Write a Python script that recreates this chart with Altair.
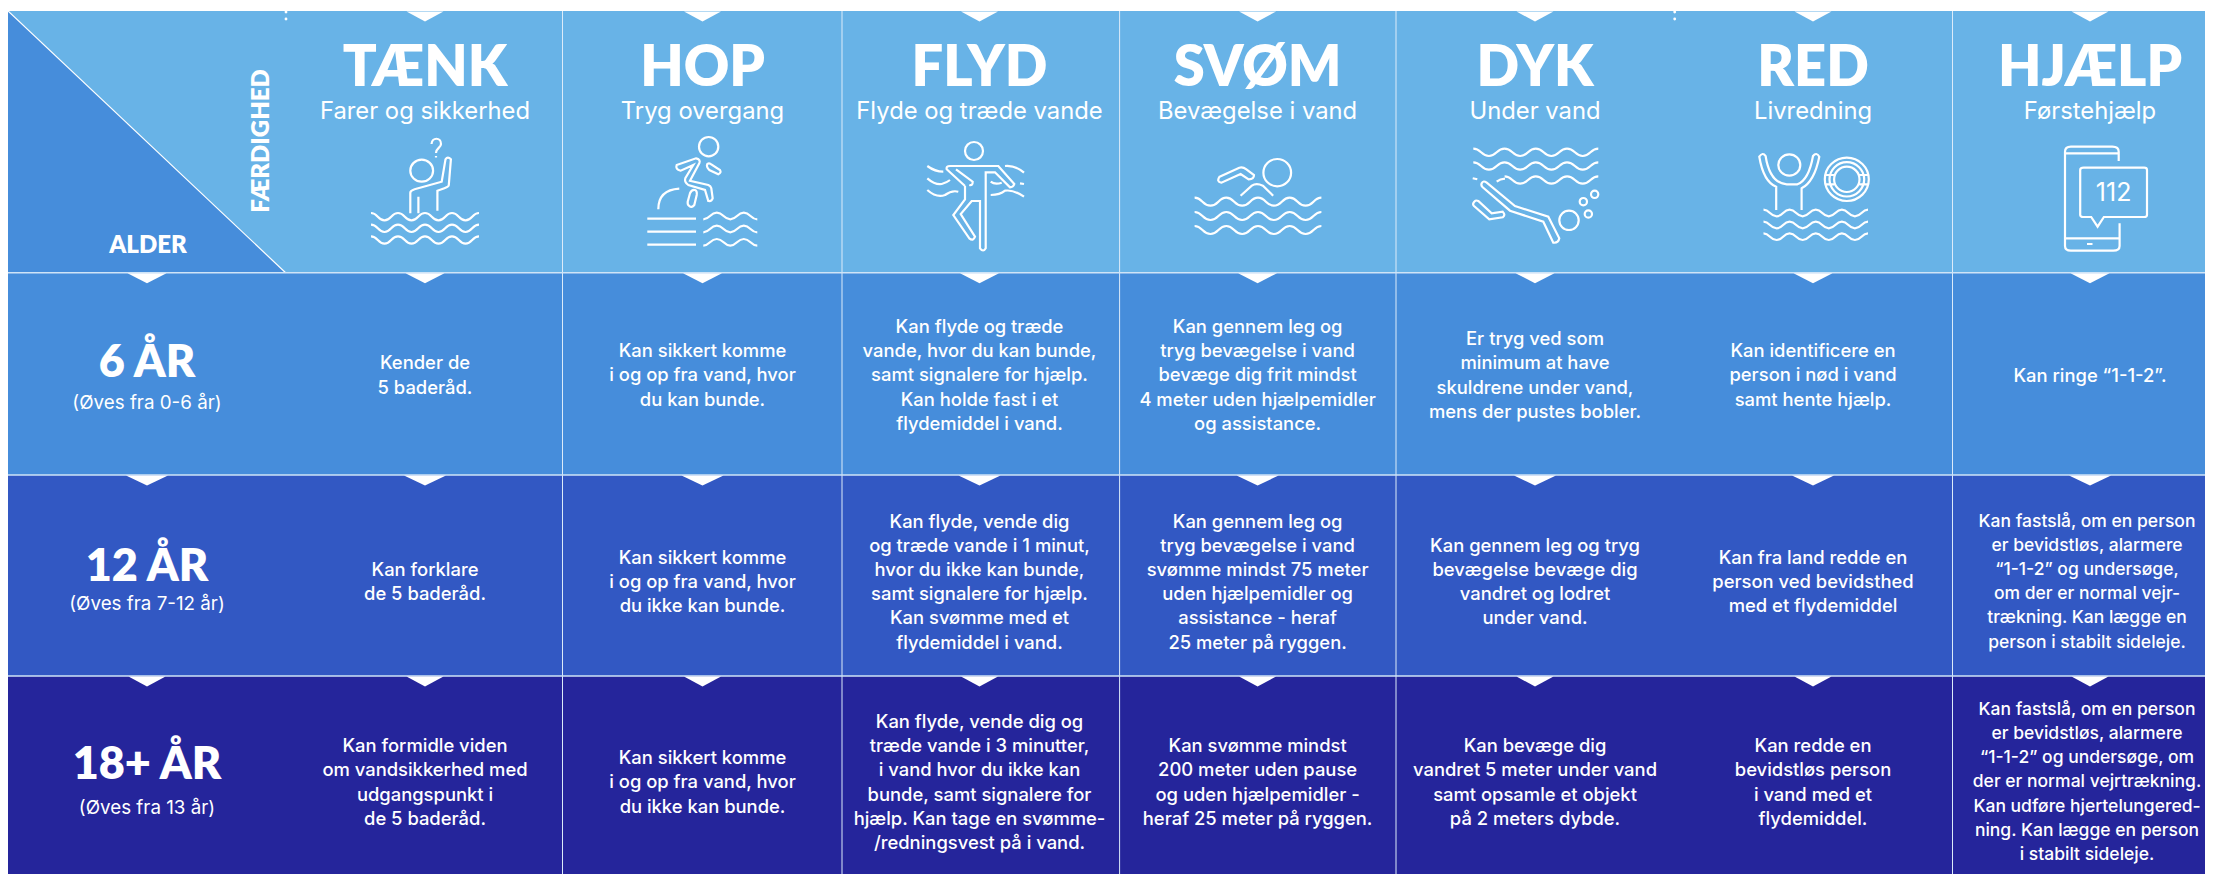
import re
import altair as alt
import pandas as pd

# ---------- content ----------
SKILLS = ["TÆNK", "HOP", "FLYD", "SVØM", "DYK", "RED", "HJÆLP"]
SUBTITLES = ["Farer og sikkerhed", "Tryg overgang", "Flyde og træde vande", "Bevægelse i vand",
             "Under vand", "Livredning", "Førstehjælp"]
AGES = ["6 ÅR", "12 ÅR", "18+ ÅR"]
AGE_NOTES = ["(Øves fra 0-6 år)", "(Øves fra 7-12 år)", "(Øves fra 13 år)"]
ROW_6 = [
    "Kender de\n5 baderåd.",
    "Kan sikkert komme\ni og op fra vand, hvor\ndu kan bunde.",
    "Kan flyde og træde\nvande, hvor du kan bunde,\nsamt signalere for hjælp.\nKan holde fast i et\nflydemiddel i vand.",
    "Kan gennem leg og\ntryg bevægelse i vand\nbevæge dig frit mindst\n4 meter uden hjælpemidler\nog assistance.",
    "Er tryg ved som\nminimum at have\nskuldrene under vand,\nmens der pustes bobler.",
    "Kan identificere en\nperson i nød i vand\nsamt hente hjælp.",
    "Kan ringe “1-1-2”.",
]
ROW_12 = [
    "Kan forklare\nde 5 baderåd.",
    "Kan sikkert komme\ni og op fra vand, hvor\ndu ikke kan bunde.",
    "Kan flyde, vende dig\nog træde vande i 1 minut,\nhvor du ikke kan bunde,\nsamt signalere for hjælp.\nKan svømme med et\nflydemiddel i vand.",
    "Kan gennem leg og\ntryg bevægelse i vand\nsvømme mindst 75 meter\nuden hjælpemidler og\nassistance - heraf\n25 meter på ryggen.",
    "Kan gennem leg og tryg\nbevægelse bevæge dig\nvandret og lodret\nunder vand.",
    "Kan fra land redde en\nperson ved bevidsthed\nmed et flydemiddel",
    "Kan fastslå, om en person\ner bevidstløs, alarmere\n“1-1-2” og undersøge,\nom der er normal vejr-\ntrækning. Kan lægge en\nperson i stabilt sideleje.",
]
ROW_18 = [
    "Kan formidle viden\nom vandsikkerhed med\nudgangspunkt i\nde 5 baderåd.",
    "Kan sikkert komme\ni og op fra vand, hvor\ndu ikke kan bunde.",
    "Kan flyde, vende dig og\ntræde vande i 3 minutter,\ni vand hvor du ikke kan\nbunde, samt signalere for\nhjælp. Kan tage en svømme-\n/redningsvest på i vand.",
    "Kan svømme mindst\n200 meter uden pause\nog uden hjælpemidler -\nheraf 25 meter på ryggen.",
    "Kan bevæge dig\nvandret 5 meter under vand\nsamt opsamle et objekt\npå 2 meters dybde.",
    "Kan redde en\nbevidstløs person\ni vand med et\nflydemiddel.",
    "Kan fastslå, om en person\ner bevidstløs, alarmere\n“1-1-2” og undersøge, om\nder er normal vejrtrækning.\nKan udføre hjertelungered-\nning. Kan lægge en person\ni stabilt sideleje.",
]

# ---------- layout of the page (pixels) ----------
W, H = 2205, 874
FONT = "Inter"
COL_CENTERS = [425, 702.5, 979.5, 1257.6, 1535, 1813, 2090]
AGE_X = 147
COL_LINES = [562.5, 842, 1119.6, 1396, 1952.5]
TOP, ROW_EDGES = 11, [272.7, 475, 676, H]
ROW_MID = [375.5, 582, 782.5]
LINE_H = 24.2
BODY_SIZE, TIGHT_SIZE = 18.4, 17.5
AGE_Y, NOTE_Y = [363, 567, 765], [403, 604, 808]
ROW_FILLS = ["#68B3E7", "#468DDB", "#3258C3", "#25259B"]
ICON_Y = 170

X = alt.Scale(domain=[8, W], range=[0, W - 8], nice=False, zero=False)
Y = alt.Scale(domain=[8, H], range=[0, H - 8], nice=False, zero=False)
px = lambda f: alt.X(f, type="quantitative", scale=X, axis=None)
py = lambda f: alt.Y(f, type="quantitative", scale=Y, axis=None)
WHITE = "#FFFFFF"


# ---------- icon outlines ----------
def T(path, ox, oy, sx, sy, cx):
    idx = [0]
    def sub(m):
        v = float(m.group(0))
        i = idx[0]
        idx[0] += 1
        if i % 2 == 0:
            return f"{ox + v / sx - cx:.1f}"
        return f"{oy + v / sy - ICON_Y:.1f}"
    return re.sub(r"-?\d+\.?\d*", sub, path)


def ell(cx, cy, rx, ry=None):
    ry = rx if ry is None else ry
    k = 0.5523
    return (f"M{cx + rx} {cy} C{cx + rx} {cy + k * ry} {cx + k * rx} {cy + ry} {cx} {cy + ry} "
            f"C{cx - k * rx} {cy + ry} {cx - rx} {cy + k * ry} {cx - rx} {cy} "
            f"C{cx - rx} {cy - k * ry} {cx - k * rx} {cy - ry} {cx} {cy - ry} "
            f"C{cx + k * rx} {cy - ry} {cx + rx} {cy - k * ry} {cx + rx} {cy} Z ")


def wave(x0, x1, y, n, amp, start=-1):
    h = (x1 - x0) / (2 * n)
    s = start
    out = f"M{x0:.1f} {y + s * amp:.1f} "
    x = x0
    for _ in range(2 * n):
        out += (f"C{x + h / 2:.1f} {y + s * amp:.1f} {x + h / 2:.1f} {y - s * amp:.1f} "
                f"{x + h:.1f} {y - s * amp:.1f} ")
        x += h
        s = -s
    return out


Z1 = (0, 0, 1.845, 3)
Z2 = (850, 0, 2.24, 3)
Z3 = (1550, 0, 2.365, 3)

taenk = (T(ell(778, 512, 21, 33) +
           "M757 640 L757 578 Q757 572 765 568 L815 545 L822 478 Q826 468 832 478 L828 555 Q828 560 820 565 "
           "L807 572 L807 632 M772 590 L772 640 ", *Z1, 425)
         + "M6.5 -26 C7 -33 16 -33 16 -26 C16 -22 11 -22 11 -17 M11 -14 L11 -12.5 "
         + wave(-54, 54, 46.7, 4, 3.7) + wave(-54, 54, 58.3, 4, 3.7) + wave(-54, 54, 70, 4, 3.7))

hop = (T(ell(206, 50, 29) +
         "M110 105 L168 85 Q183 88 178 100 L150 152 L205 165 Q212 168 214 175 L218 205 Q215 215 205 213 "
         "L195 180 L145 165 Q132 155 136 145 L160 105 L122 122 Q105 118 110 105 Z "
         "M202 102 Q208 97 215 104 L240 120 Q245 128 235 133 L208 120 Q198 110 202 102 Z "
         "M150 190 Q155 178 165 180 Q172 182 170 195 L163 225 Q155 235 148 228 Q142 225 143 215 Z "
         "M55 238 Q55 180 118 176 M22 266 L168 266 M22 305 L168 305 M22 344 L168 344 ",
         640, 130, 3, 3, 702.5)
       + wave(0.8, 54.8, 46, 2, 3.3, 1) + wave(0.8, 54.8, 59, 2, 3.3, 1) + wave(0.8, 54.8, 72.3, 2, 3.3, 1))

flyd = T(ell(162, 63, 27) +
         "M135 168 L80 118 Q78 108 90 108 L235 108 L283 162 Q280 172 270 172 L225 127 L197 127 L197 355 "
         "Q190 368 180 355 L180 213 L155 213 L122 252 L165 320 Q160 335 148 325 L100 255 L135 208 L135 168 "
         "M108 118 L158 155 Q158 168 148 165 "
         "M22 108 Q45 125 70 125 M22 145 Q45 165 65 162 Q80 158 90 150 M22 180 Q50 205 75 195 Q95 180 115 185 "
         "M255 108 Q285 105 312 128 M212 155 Q225 165 245 158 M300 160 L312 162 "
         "M212 195 Q240 195 255 182 Q280 178 312 200 ", 920, 130, 3, 3, 979.5)

svom = (T(ell(957, 518, 31, 41) +
          "M828 530 L872 503 Q880 500 888 508 L905 525 Q905 538 893 538 L875 522 L832 548 Q820 545 828 530 Z "
          "M875 587 L900 557 Q910 548 925 557 L948 587 ", *Z2, 1257.6)
        + wave(-63, 63.8, 31.7, 4, 4) + wave(-63, 63.8, 46, 4, 4) + wave(-63, 63.8, 60, 4, 4))

dyk = (T("M65 130 Q70 120 80 128 L165 198 L265 230 L298 295 Q295 310 280 308 L250 245 L150 212 L68 142 Q62 136 65 130 Z "
         "M40 190 Q45 178 55 183 L95 220 L128 215 Q138 225 128 232 L88 238 L42 198 Q38 194 40 190 Z "
         + ell(327, 241, 29) + ell(370, 185, 11) + ell(404, 163, 11) + ell(385, 222, 11)
         + "M38 115 L52 118 M110 125 Q120 117 135 116 ", 1460, 140, 3, 3, 1535)
       + wave(-61.7, 63.3, -17.7, 4, 3.7) + wave(-61.7, 63.3, -4, 4, 3.7) + wave(-30.4, 63.3, 10, 3, 3.7))

red = (T(ell(566, 495, 26, 32) +
         "M535 630 L535 560 Q505 545 495 470 Q503 455 510 468 Q520 550 560 553 L585 553 Q612 540 622 468 "
         "Q630 455 637 470 Q625 545 595 565 L595 630 "
         + ell(702, 538, 52, 65) + ell(702, 538, 30, 38) + ell(702, 538, 41, 51.5)
         + "M652 525 L672 525 M652 553 L672 553 M732 525 L752 525 M732 553 L752 553 ", *Z3, 1813)
       + wave(-49.5, 55, 43, 4, 3.3) + wave(-49.5, 55, 55, 4, 3.3) + wave(-49.5, 55, 66.7, 4, 3.3))

hjaelp = T("M1345 483 L1345 455 Q1345 440 1330 440 L1232 440 Q1218 440 1218 455 L1218 738 Q1218 752 1232 752 "
           "L1332 752 Q1347 752 1347 738 L1347 670 M1218 460 L1345 460 M1218 715 L1347 715 M1270 732 L1283 732 "
           "M1262 503 L1405 503 Q1412 503 1412 510 L1412 645 Q1412 651 1405 651 L1310 651 L1295 680 L1280 651 "
           "L1262 651 Q1254 651 1254 645 L1254 510 Q1254 503 1262 503 Z ", *Z3, 2090)

ICONS = [taenk, hop, flyd, svom, dyk, red, hjaelp]
CORNER = f"M0 {TOP - ROW_EDGES[0]} L{285.6 - 8} 0 L0 0 Z"


def tri(half):
    return f"M{-half} 0 L{half} 0 L0 10 Z"


# ---------- tables ----------
bands = pd.DataFrame({
    "x": [8] * 4, "x2": [W] * 4,
    "y": [TOP] + ROW_EDGES[:3], "y2": ROW_EDGES,
    "fill": ROW_FILLS,
})
# vega places the FIRST line of a multi-line text at y, so centre the block here.
# The last column's longest lines run to the page edge, so they get a tighter size and centre.
cells = pd.DataFrame([
    {"x": COL_CENTERS[c] - (3 if c == 6 and r > 0 else 0),
     "y": ROW_MID[r] - (rows[c].count("\n")) * LINE_H / 2,
     "text": rows[c],
     "fs": TIGHT_SIZE if c == 6 and r > 0 else BODY_SIZE}
    for r, rows in enumerate([ROW_6, ROW_12, ROW_18]) for c in range(7)
])
heads = pd.DataFrame({"x": COL_CENTERS, "skill": SKILLS, "sub": SUBTITLES, "icon": ICONS,
                      "yh": [68.5] * 7, "ys": [112] * 7, "yi": [ICON_Y] * 7})
ages = pd.DataFrame({"x": [AGE_X] * 3, "age": AGES, "note": AGE_NOTES, "ya": AGE_Y, "yn": NOTE_Y})
vlines = pd.DataFrame({"x": COL_LINES, "y": [TOP] * 5, "y2": [H] * 5})
hlines = pd.DataFrame({"y": ROW_EDGES[:3], "x": [8] * 3, "x2": [W] * 3})
notch_rows = [(TOP, 18.5), (ROW_EDGES[0], 19.5), (ROW_EDGES[1], 21), (ROW_EDGES[2], 18.5)]
notches = pd.DataFrame([
    {"x": x, "y": y + 0.5, "shape": tri(h)}
    for i, (y, h) in enumerate(notch_rows)
    for x in (COL_CENTERS if i == 0 else [AGE_X] + COL_CENTERS)
])

# ---------- marks ----------
rects = alt.Chart(bands).mark_rect(strokeWidth=0).encode(
    x=px("x"), x2="x2", y=py("y"), y2="y2", fill=alt.Fill("fill:N", scale=None))

corner = alt.Chart(pd.DataFrame({"x": [8], "y": [ROW_EDGES[0]]})).mark_point(
    shape=CORNER, size=4, filled=True, fill=ROW_FILLS[1], opacity=1, strokeWidth=0
).encode(x=px("x"), y=py("y"))

diagonal = alt.Chart(pd.DataFrame({"x": [8], "x2": [285.6], "y": [TOP], "y2": [ROW_EDGES[0]]})).mark_rule(
    color=WHITE, strokeWidth=1.2).encode(x=px("x"), x2="x2", y=py("y"), y2="y2")

vrules = alt.Chart(vlines).mark_rule(color="#DCEBF9", strokeWidth=1).encode(x=px("x"), y=py("y"), y2="y2")
hrules = alt.Chart(hlines).mark_rule(color="#CFE4F7", strokeWidth=1.6).encode(x=px("x"), x2="x2", y=py("y"))

notch = alt.Chart(notches).mark_point(size=4, filled=True, fill=WHITE, opacity=1, strokeWidth=0).encode(
    x=px("x"), y=py("y"), shape=alt.Shape("shape:N", scale=None))

icons = alt.Chart(heads).mark_point(size=4, filled=False, stroke=WHITE, strokeWidth=2.2, opacity=1).encode(
    x=px("x"), y=py("yi"), shape=alt.Shape("icon:N", scale=None))

head_txt = alt.Chart(heads).mark_text(font="Lato", fontWeight=800, fontSize=56, color=WHITE, align="center",
                                      baseline="middle").encode(x=px("x"), y=py("yh"), text="skill:N")
sub_txt = alt.Chart(heads).mark_text(font=FONT, fontWeight=400, fontSize=23.8, color=WHITE, align="center",
                                     baseline="middle").encode(x=px("x"), y=py("ys"), text="sub:N")
body = alt.Chart(cells).mark_text(font=FONT, fontWeight=500, lineHeight=LINE_H, lineBreak="\n",
                                  color=WHITE, align="center", baseline="middle").encode(
    x=px("x"), y=py("y"), text="text:N", size=alt.Size("fs:Q", scale=None))
age_txt = alt.Chart(ages).mark_text(font="Lato", fontWeight=800, fontSize=45, color=WHITE, align="center",
                                    baseline="middle").encode(x=px("x"), y=py("ya"), text="age:N")
note_txt = alt.Chart(ages).mark_text(font=FONT, fontWeight=400, fontSize=18.8, color=WHITE, align="center",
                                     baseline="middle").encode(x=px("x"), y=py("yn"), text="note:N")

alder = alt.Chart(pd.DataFrame({"x": [148], "y": [245.7], "t": ["ALDER"]})).mark_text(
    font="Lato", fontWeight=800, fontSize=24, color=WHITE, align="center", baseline="middle"
).encode(x=px("x"), y=py("y"), text="t:N")
faerdighed = alt.Chart(pd.DataFrame({"x": [262], "y": [141], "t": ["FÆRDIGHED"]})).mark_text(
    font="Lato", fontWeight=800, fontSize=24, color=WHITE, align="center", baseline="middle", angle=270
).encode(x=px("x"), y=py("y"), text="t:N")
phone = alt.Chart(pd.DataFrame({"x": [2113.6], "y": [192.7], "t": ["112"]})).mark_text(
    font=FONT, fontWeight=400, fontSize=25, color=WHITE, align="center", baseline="middle"
).encode(x=px("x"), y=py("y"), text="t:N")
guides = alt.Chart(pd.DataFrame({"x": [286, 286, 1674.7, 1674.7], "y": [12, 19, 12, 19]})).mark_circle(
    size=8, color=WHITE, opacity=1).encode(x=px("x"), y=py("y"))

chart = alt.layer(rects, corner, diagonal, vrules, hrules, notch, icons, head_txt, sub_txt, body, age_txt,
                  note_txt, alder, faerdighed, phone, guides).properties(
    width=W - 8, height=H - 8, padding=0, autosize="none", background="white"
).configure_view(stroke=None)

chart.save("out.html", embed_options={"renderer": "svg", "actions": False})
